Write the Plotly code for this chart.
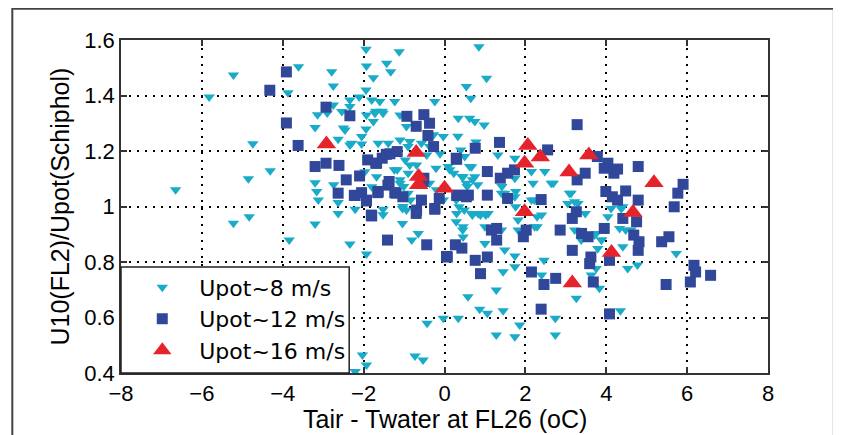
import plotly.graph_objects as go

# ---- data ----
# Upot ~ 8 m/s (cyan, down triangles)
x8 = [-6.65, -5.82, -5.22, -5.22, -4.83, -4.85, -4.74, -4.31, -3.87, -3.84,
      -3.61, -3.20, -3.20, -3.16, -3.12, -3.20, -3.14, -2.90, -2.79, -2.75,
      -2.75, -2.63, -2.50, -2.63, -2.63, -2.74, -2.54, -2.46, -2.34, -2.34,
      -2.34, -2.34, -2.30, -2.21, -2.21, -2.11, -2.05, -2.05, -2.03, -1.97,
      -1.94, -1.93, -1.94, -1.93, -1.94, -1.93, -1.93, -1.80, -1.80, -1.76,
      -1.76, -1.72, -1.70, -1.68, -1.64, -1.60, -1.54, -1.52, -1.52, -1.52,
      -1.43, -1.39, -1.33, -1.24, -1.23, -1.12, -1.10, -1.10, -1.04, -1.03,
      -0.94, -0.94, -0.86, -0.86, -0.81, -0.73, -0.69, -0.65, -0.57, -0.53,
      -0.43, -0.37, -0.27, -0.24, -0.20, -0.11, -0.03, -0.03, -0.03, 0.13,
      0.29, 0.30, 0.33, 0.34, 0.34, 0.36, 0.38, 0.40, 0.43, 0.45,
      0.46, 0.46, 0.46, 0.50, 0.54, 0.54, 0.58, 0.62, 0.65, 0.67,
      0.67, 0.75, 0.75, 0.78, 0.83, 0.85, 0.87, 0.98, 1.00, 1.00,
      1.04, 1.06, 1.08, 1.28, 1.28, 1.32, 1.41, 1.41, 1.45, 1.45,
      1.49, 1.74, 1.74, 1.74, 1.74, 1.74, 1.74, 1.86, 2.15, 2.15,
      2.19, 2.23, 2.40, 2.40, 2.46, 2.48, 2.64, 2.74, 2.74, 3.05,
      3.13, 3.22, 3.26, 3.30, 3.38, 3.63, 3.71, 3.75, 3.79, 3.83,
      3.88, 4.04, 4.12, 4.33, 4.35, 4.37, 4.53, 4.77, 5.73,
      -1.10, -0.90, -0.97, -1.17, -0.90, -1.10, -1.01, -0.90, -0.84, -1.04,
      -0.37, -0.44, -0.21, 0.09, 0.23, 0.62, 0.69, 0.56, 0.82, 0.29,
      0.49, 0.69, 0.89, 1.02, 1.42, 1.49, 1.76, 1.76, 1.82, 1.82,
      2.22, 2.29, 2.29, 2.69, 3.09, 3.22, 3.48, 3.75, 3.88, 4.41,
      4.48, 4.41, 4.61]
y8 = [1.06, 1.395, 1.474, 0.94, 0.963, 1.10, 1.226, 1.129, 1.41, 0.879,
      1.504, 1.285, 1.086, 1.054, 1.023, 0.937, 1.331, 1.337, 1.486, 1.434,
      1.366, 1.242, 1.283, 1.014, 0.975, 1.078, 1.342, 1.276, 1.384, 1.36,
      1.222, 0.865, 1.228, 0.99, 0.405, 1.395, 1.252, 1.225, 0.465, 1.125,
      1.567, 1.506, 1.42, 1.33, 1.279, 0.829, 0.429, 1.384, 1.071, 1.464,
      1.306, 1.336, 1.343, 1.107, 1.228, 1.378, 1.343, 1.336, 0.99, 0.97,
      1.516, 1.228, 1.486, 1.132, 1.378, 1.558, 1.33, 1.084, 0.939, 1.00,
      1.288, 0.987, 1.234, 1.15, 0.879, 0.461, 1.15, 0.903, 1.228, 0.447,
      0.579, 1.084, 1.259, 1.378, 1.06, 1.19, 1.252, 1.023, 0.597, 1.132,
      0.945, 0.975, 1.253, 1.318, 0.597, 0.999, 1.05, 1.204, 1.108, 0.915,
      1.107, 0.927, 0.89, 1.18, 1.432, 1.084, 0.675, 1.318, 1.39, 1.143,
      0.975, 1.306, 1.107, 1.232, 0.975, 1.576, 0.63, 1.294, 0.927, 0.867,
      1.462, 0.615, 0.975, 0.699, 0.537, 1.186, 1.048, 0.915, 0.765, 0.624,
      0.843, 1.174, 1.102, 1.035, 0.822, 0.783, 0.531, 0.573, 1.126, 1.023,
      1.084, 0.927, 0.969, 0.753, 0.806, 1.126, 1.084, 0.597, 0.537, 1.011,
      1.048, 0.915, 0.669, 1.011, 0.879, 0.753, 0.897, 0.777, 0.849, 0.705,
      0.879, 0.963, 0.993, 0.921, 0.624, 0.993, 0.777, 0.789, 0.831,
      1.24, 1.216, 1.168, 1.132, 1.12, 1.096, 1.072, 1.048, 1.023, 0.993,
      1.216, 1.186, 1.138, 1.144, 1.12, 1.144, 1.096, 1.072, 1.078, 1.023,
      0.987, 0.969, 0.969, 0.969, 1.072, 1.048, 1.054, 0.999, 0.951, 0.915,
      1.023, 0.963, 0.927, 1.084, 1.048, 1.017, 0.975, 0.903, 0.879, 0.999,
      0.915, 0.855, 0.915]

# Upot ~ 12 m/s (dark blue squares)
x12 = [-3.91, -4.32, -3.91, -3.62, -2.93, -2.34, -3.20, -2.93, -2.61, -2.63,
       -2.43, -2.10, -2.23, -1.90, -1.93, -1.81, -1.70, -1.54, -1.44, -1.37,
       -1.64, -1.41, -1.20, -1.17, -0.93, -0.70, -0.51, -0.37, -0.41, -0.27,
       -0.51, -0.70, -0.44, -0.24, -0.13, 0.07, 0.29, 0.33, 0.27, 0.43,
       0.59, 0.76, 0.76, 0.89, 1.06, 1.06, 1.06, 1.16, 1.29, 1.36,
       1.38, 1.29, 1.56, 1.56, 1.73, 1.95, 2.02, 2.15, 2.39, 2.39,
       2.46, 2.55, 2.75, 2.86, 3.16, 3.16, 3.26, 3.28, 3.39, 3.55,
       3.59, 3.62, 3.68, 3.28, 3.48, 3.78, 3.95, 4.04, 4.19, 4.28,
       3.99, 4.15, 4.48, 4.28, 4.79, 4.79, 3.95, 4.08, 4.08, 4.41,
       4.75, 4.68, 4.81, 4.79, 5.37, 5.55, 5.68, 5.77, 5.90, 5.48,
       6.08, 6.17, 6.21, 6.58,
       -1.68, -1.35, -2.21, -2.05, -1.93, -1.65, -1.80, -1.40, -1.23, -0.69,
       -0.57, -0.24, 0.05, 0.30, 0.30, -0.53, -1.03, 0.54]
y12 = [1.485, 1.419, 1.301, 1.22, 1.358, 1.327, 1.144, 1.156, 1.148, 1.048,
       1.096, 1.11, 1.04, 1.168, 1.023, 0.969, 1.156, 1.174, 1.188, 1.09,
       1.054, 0.879, 1.048, 1.198, 1.325, 1.289, 1.331, 1.30, 1.256, 1.216,
       1.102, 0.975, 0.862, 0.993, 1.029, 0.818, 1.174, 1.041, 0.862, 0.85,
       1.041, 1.21, 0.806, 0.758, 1.126, 1.041, 0.818, 0.915, 0.921, 1.231,
       1.102, 0.879, 1.12, 1.029, 1.132, 0.891, 0.915, 0.764, 1.025, 0.63,
       0.719, 1.204, 0.741, 0.915, 0.842, 0.957, 0.981, 1.295, 0.903, 0.891,
       0.794, 0.818, 0.728, 1.096, 1.12, 1.18, 1.138, 1.156, 1.12, 1.135,
       1.054, 1.035, 1.056, 1.023, 1.144, 1.023, 0.921, 0.806, 0.613, 0.957,
       0.945, 0.897, 0.873, 0.842, 0.873, 0.891, 0.999, 1.048, 1.08, 0.719,
       0.728, 0.788, 0.764, 0.752,
       1.156, 1.19, 1.04, 1.05, 1.02, 1.05, 0.966, 1.077, 1.05, 0.987,
       1.023, 0.99, 0.82, 1.17, 1.04, 1.09, 1.035, 1.035]

# Upot ~ 16 m/s (red up triangles)
x16 = [-2.92, -0.70, -0.64, -0.64, 0.00, 2.06, 2.37, 1.98, 3.57, 3.08,
       5.18, 1.98, 4.66, 4.13, 3.16]
y16 = [1.225, 1.195, 1.108, 1.078, 1.066, 1.22, 1.178, 1.156, 1.186, 1.124,
       1.086, 0.981, 0.978, 0.834, 0.724]

x_ticks = [-8, -6, -4, -2, 0, 2, 4, 6, 8]
x_ticklabels = ["\u22128", "\u22126", "\u22124", "\u22122", "0", "2", "4", "6", "8"]
y_ticks = [0.4, 0.6, 0.8, 1.0, 1.2, 1.4, 1.6]
y_ticklabels = ["0.4", "0.6", "0.8", "1", "1.2", "1.4", "1.6"]

x_title = "Tair - Twater at FL26 (oC)"
y_title = "U10(FL2)/Upot(Schiphol)"

FONT = "Liberation Sans, Arial, sans-serif"
LEGEND_FONT = "DejaVu Sans"

fig = go.Figure()
fig.add_trace(go.Scatter(
    x=x8, y=y8, mode="markers", name="Upot~8 m/s", legendgroup="a",
    marker=dict(symbol="triangle-down", size=10, color="#1AABC8"),
))
fig.add_trace(go.Scatter(
    x=x12, y=y12, mode="markers", name="Upot~12 m/s", legendgroup="b",
    marker=dict(symbol="square", size=11, color="#30479A"),
))
fig.add_trace(go.Scatter(
    x=x16, y=y16, mode="markers", name="Upot~16 m/s", legendgroup="c",
    marker=dict(symbol="triangle-up", size=17, color="#E5232B"),
))

axis_style = dict(
    showgrid=True, gridcolor="black", gridwidth=1.5, griddash="2px,6px",
    zeroline=False, showline=True, linecolor="#333", linewidth=1.5,
    mirror="ticks", ticks="inside", ticklen=6, tickwidth=2, tickcolor="#333",
    tickfont=dict(family=FONT, size=22, color="black"),
    automargin=False,
)

# the page body adds an 8px margin, so the figure is sized/offset for it
fig.update_layout(
    width=833, height=427,
    margin=dict(l=113, r=73, t=32, b=62),
    paper_bgcolor="white", plot_bgcolor="white",
    font=dict(family=FONT, color="black"),
    xaxis=dict(range=[-8, 8], tickvals=x_ticks, ticktext=x_ticklabels,
               **axis_style),
    yaxis=dict(range=[0.4, 1.6], tickvals=y_ticks, ticktext=y_ticklabels,
               **axis_style),
    legend=dict(
        x=0.0066, y=0.005, xanchor="left", yanchor="bottom",
        bgcolor="rgba(0,0,0,0)", borderwidth=0,
        font=dict(family=LEGEND_FONT, size=22, color="black"),
        itemwidth=64, tracegroupgap=0, traceorder="grouped",
    ),
    showlegend=True,
    # axis titles placed as annotations so their position is exact
    annotations=[
        dict(text=x_title, xref="paper", yref="paper", x=0.5, y=0,
             xanchor="center", yanchor="middle", yshift=-46,
             showarrow=False, font=dict(family=FONT, size=25, color="black")),
        dict(text=y_title, xref="paper", yref="paper", x=0, y=0.5,
             xanchor="center", yanchor="middle", xshift=-62, textangle=-90,
             showarrow=False, font=dict(family=FONT, size=25, color="black")),
    ],
    shapes=[
        # legend box
        dict(type="rect", xref="paper", yref="paper", x0=0, x1=0.3527,
             y0=0, y1=0.318, fillcolor="white", layer="above",
             line=dict(color="#222", width=1.5)),
        # outer frame of the figure
        dict(type="rect", xref="paper", yref="paper", x0=-0.168, x1=1.1018,
             y0=-0.25, y1=1.094, layer="above",
             line=dict(color="#444", width=2)),
    ],
)

fig.write_html("out.html")
